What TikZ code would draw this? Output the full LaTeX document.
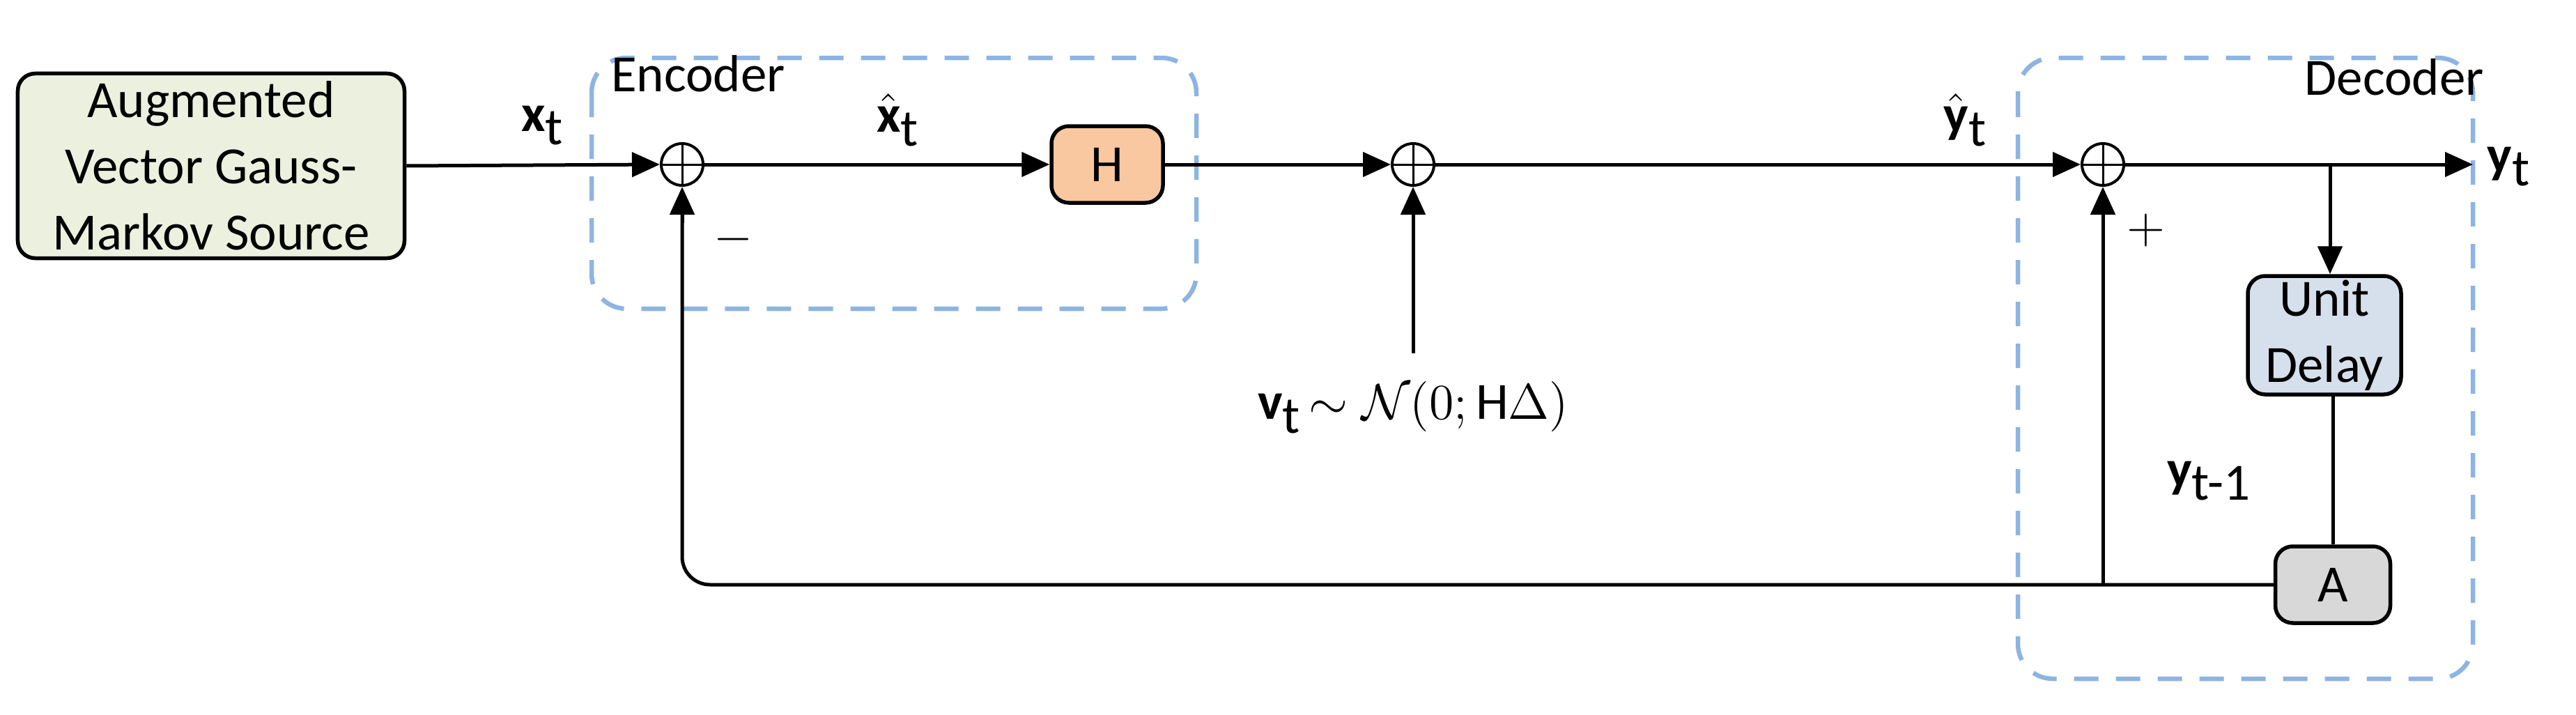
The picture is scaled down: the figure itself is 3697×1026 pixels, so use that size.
\documentclass[tikz,border=0pt]{standalone}
\usepackage{fontspec}
\setmainfont{Carlito}
\usepackage{amsmath}
\usetikzlibrary{arrows.meta}
\definecolor{dblue}{RGB}{141,180,226}
\definecolor{srcg}{RGB}{235,241,222}
\definecolor{horange}{RGB}{250,200,160}
\definecolor{udblue}{RGB}{214,224,236}
\definecolor{agray}{RGB}{216,216,216}
\newcommand{\lbl}[2]{\textbf{#1}\raisebox{-0.55ex}{#2}}
\begin{document}
\begin{tikzpicture}[x=0.2pt,y=-0.2pt,
  font=\fontsize{15}{17}\selectfont,
  blk/.style={draw,line width=1.1pt,rounded corners=5pt,inner sep=0pt,align=center},
  sum/.style={draw,circle,line width=0.8pt,minimum size=12pt,inner sep=0pt,path picture={\draw[line width=0.6pt] (path picture bounding box.north)--(path picture bounding box.south) (path picture bounding box.west)--(path picture bounding box.east);}},
  wire/.style={line width=1pt},
  arr/.style={wire,-{Triangle[length=8pt,width=7pt]}},
  grp/.style={draw=dblue,line width=1.3pt,dash pattern=on 7pt off 5pt,rounded corners=10pt}]
\useasboundingbox (0,0) rectangle (3697,1026);
\draw[grp] (849,83) rectangle (1717,443);
\draw[grp] (2896,83) rectangle (3549,974);
\node[blk,fill=srcg,minimum width=111pt,minimum height=53pt] (src) at (303,238) {Augmented\\[2pt]Vector Gauss-\\[2pt]Markov Source};
\node[sum] (s1) at (979,236) {};
\node[blk,fill=horange,minimum width=32pt,minimum height=22pt] (H) at (1589,236) {H};
\node[sum] (s2) at (2028,236) {};
\node[sum] (s3) at (3018,236) {};
\node[blk,fill=udblue,minimum width=44pt,minimum height=34pt] (ud) at (3336,481) {Unit\\[2pt]Delay};
\node[blk,fill=agray,minimum width=33pt,minimum height=22pt] (A) at (3348,839) {A};
\coordinate (out) at (3549,236);
\coordinate (br) at (3344,236);
\coordinate (nz) at (2028,507);
\coordinate (fb) at (3018,839);
\node at (1002,106) {Encoder};
\node at (3436,111) {Decoder};
\node at (778,180) {\lbl{x}{t}};
\node at (1288,172) {\lbl{$\hat{\textbf{x}}$}{t}};
\node at (2820,172) {\lbl{$\hat{\textbf{y}}$}{t}};
\node[anchor=west] at (3552,239) {\lbl{y}{t}};
\node at (3170,690) {\lbl{y}{t-1}};
\node at (1052,343) {$-$};
\node at (3080,330) {$+$};
\node at (2028,585) {\lbl{v}{t}\,$\sim\mathcal{N}\!\left(0;\text{H}\Delta\right)$};
\draw[arr] (src.east) -- (s1.west);
\draw[arr] (s1.east) -- (H.west);
\draw[arr] (H.east) -- (s2.west);
\draw[arr] (nz) -- (s2.south);
\draw[arr] (s2.east) -- (s3.west);
\draw[arr] (s3.east) -- (out);
\draw[arr] (br) -- (br |- ud.north);
\draw[wire] (ud.south -| A.north) -- (A.north);
\draw[wire,rounded corners=8pt] (A.west) -- (979,839) -- (979,300);
\draw[arr] (979,320) -- (s1.south);
\draw[arr] (fb) -- (s3.south);
\end{tikzpicture}
\end{document}
